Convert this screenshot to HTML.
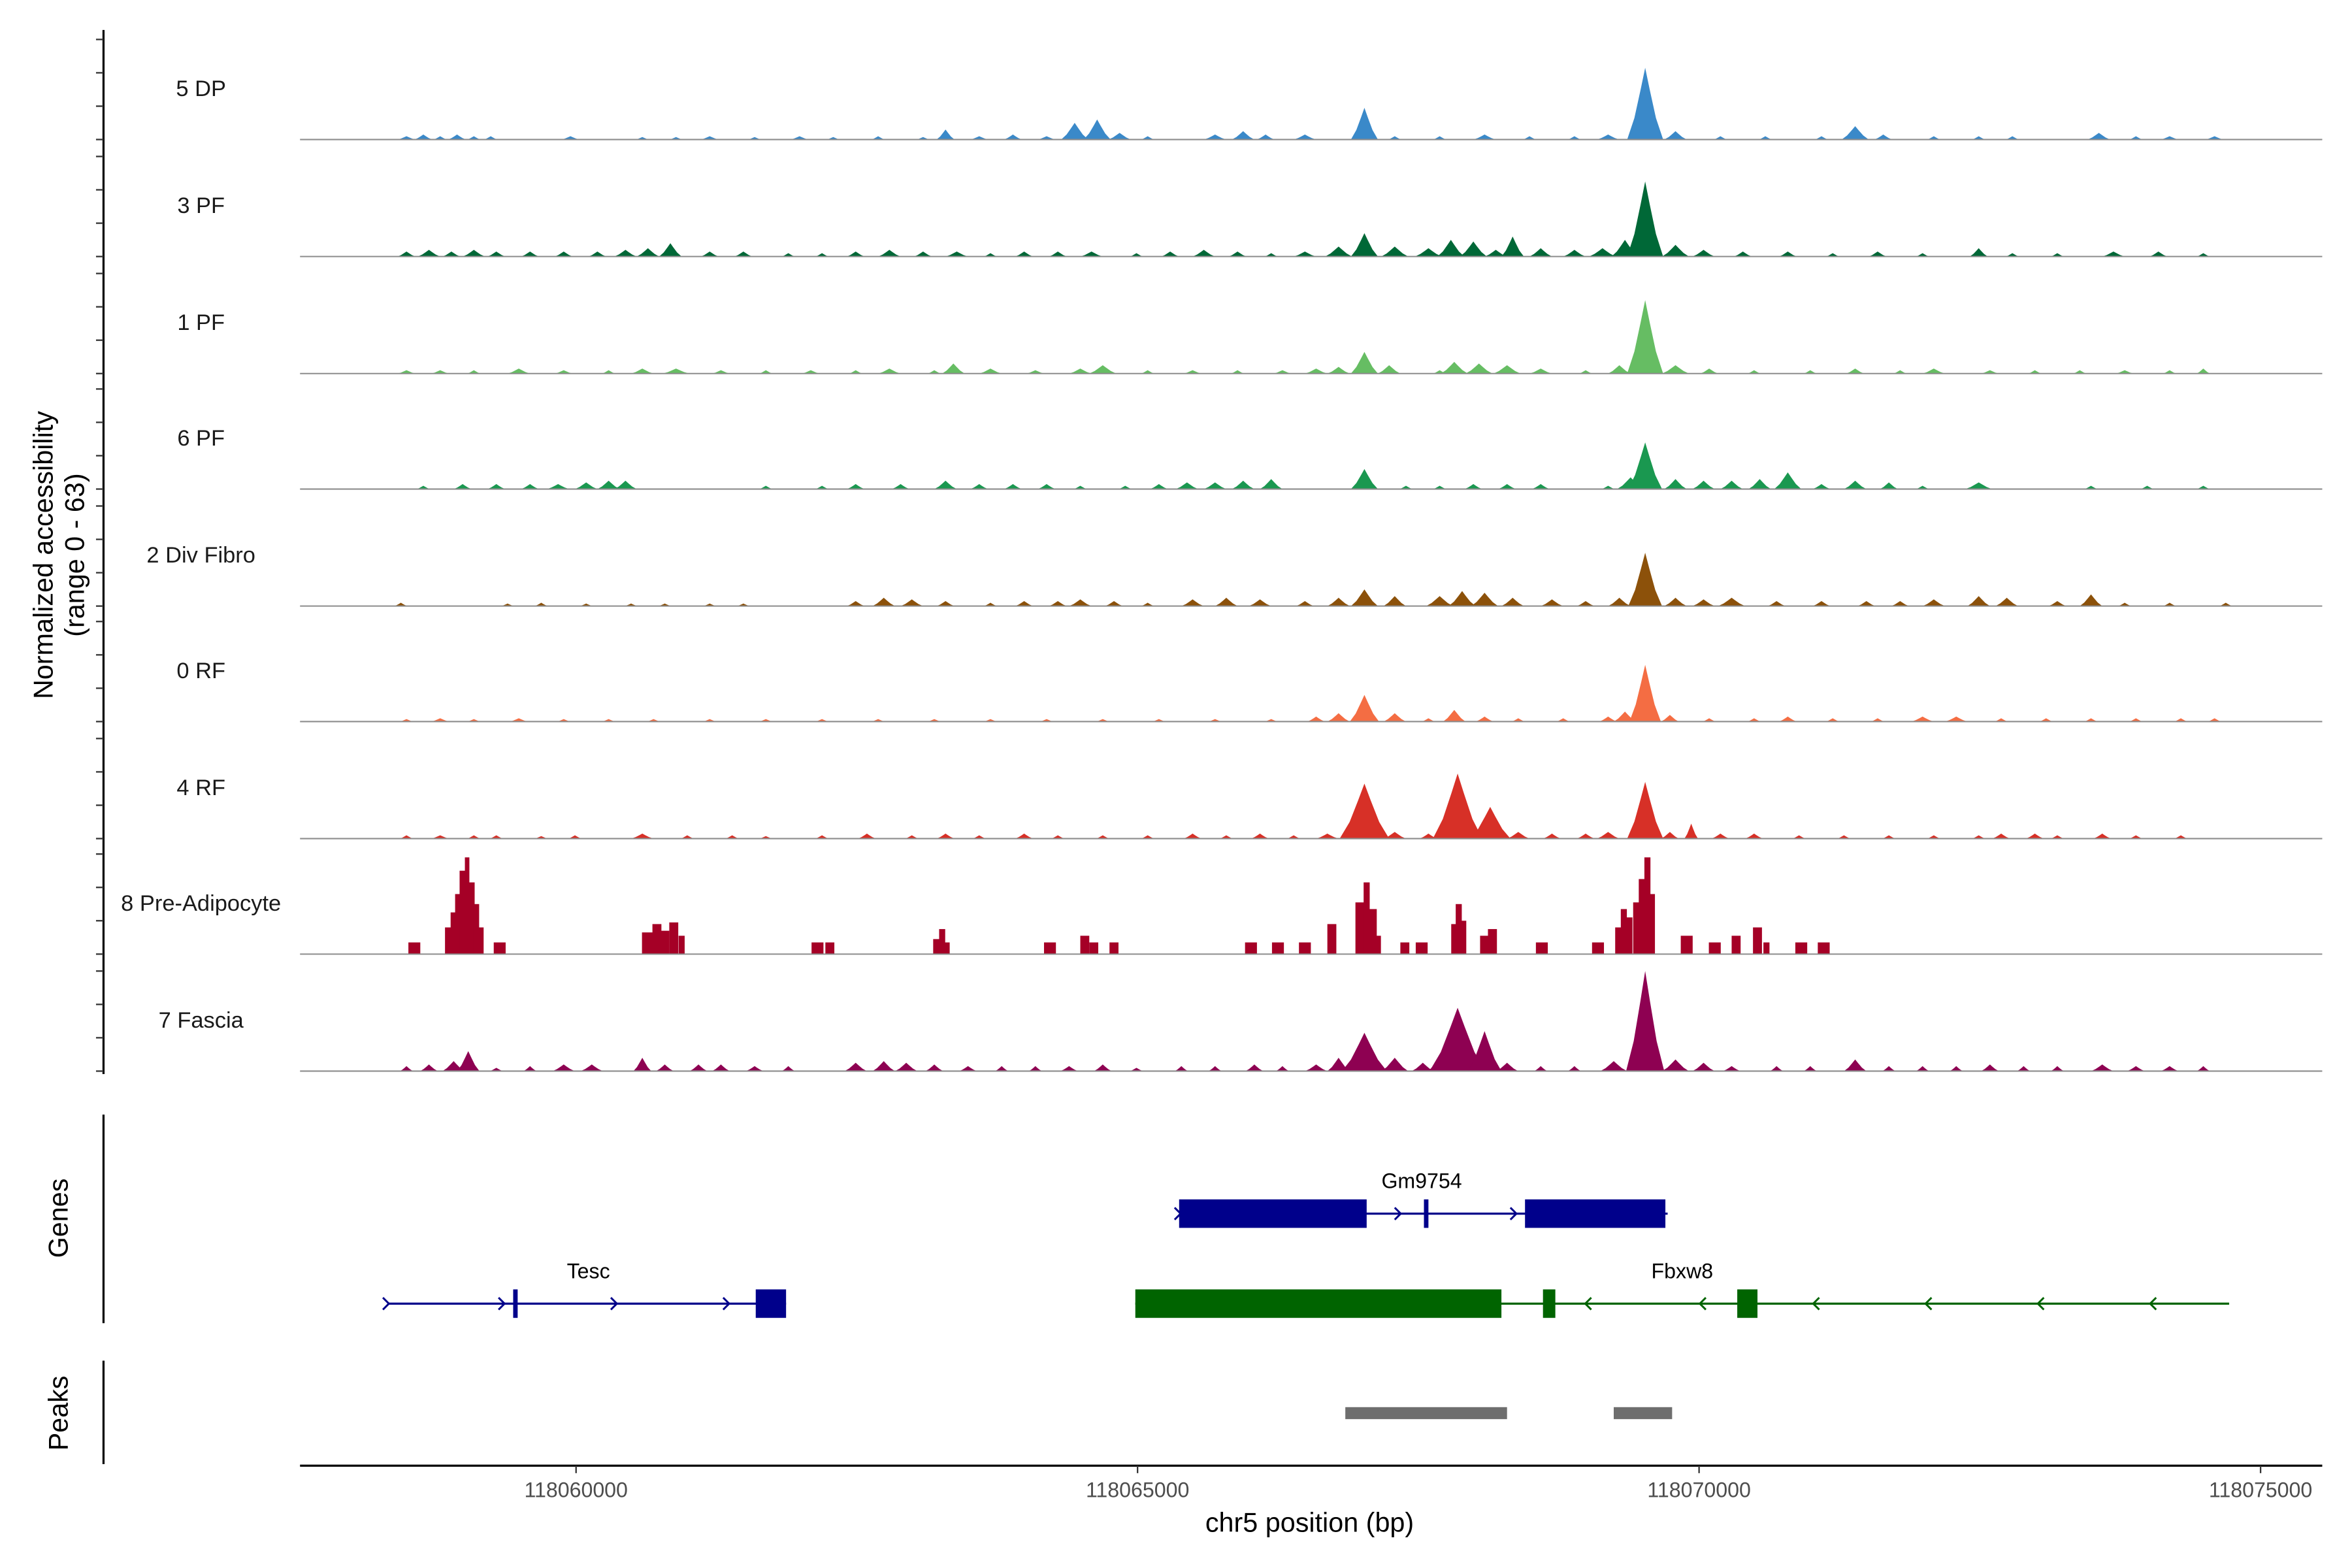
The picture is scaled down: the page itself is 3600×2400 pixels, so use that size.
<!DOCTYPE html>
<html><head><meta charset="utf-8">
<style>
html,body{margin:0;padding:0;background:#fff;}
svg{display:block;}
text{font-family:"Liberation Sans",Arial,sans-serif;}
</style></head>
<body>
<svg id="chart" width="3600" height="2400" viewBox="0 0 1560 1040" xmlns="http://www.w3.org/2000/svg">
<rect width="1560" height="1040" fill="#fff"/>
<g id="root" transform="scale(0.995)">
<g id="tracks"></g>
<g id="genes"></g>
<g id="peaks"></g>
<g id="axes"></g>
<text transform="translate(35,370) rotate(-90)" text-anchor="middle" font-size="18" fill="#000">Normalized accessibility</text>
<text transform="translate(56,370) rotate(-90)" text-anchor="middle" font-size="18" fill="#000">(range 0 - 63)</text>
<text transform="translate(45,812) rotate(-90)" text-anchor="middle" font-size="18" fill="#000">Genes</text>
<text transform="translate(45,942) rotate(-90)" text-anchor="middle" font-size="18" fill="#000">Peaks</text>
<text x="873" y="1021" text-anchor="middle" font-size="18" fill="#000">chr5 position (bp)</text>
</g>
</svg>
<script>
// ---- data (positions in kb minus 118000, values in normalized accessibility units) ----
const trackNames = ["5 DP","3 PF","1 PF","6 PF","2 Div Fibro","0 RF","4 RF","8 Pre-Adipocyte","7 Fascia"];
const trackColors = ["#3a89c9","#006837","#66bd63","#1a9850","#8c510a","#f46d43","#d73027","#a50026","#8e0152"];
const xTickValues = [118060000,118065000,118070000,118075000];
const xTickLabels = ["118060000","118065000","118070000","118075000"];
const yTickValues = [0,20,40,60];
const dp5 = [[58.49,2,.08],[58.64,3,.08],[58.79,2,.06],[58.94,3,.08],[59.09,2,.06],[59.24,2,.06],[59.95,2,.08],[60.59,1.5,.06],[60.89,1.5,.06],[61.19,2,.08],[61.59,1.5,.06],[61.99,2,.08],[62.29,1.5,.06],[62.69,2,.06],[63.09,1.5,.06],[63.29,6,.08],[63.59,2,.08],[63.89,3,.08],[64.19,2,.08],[64.44,10,.12],[64.64,12,.12],[64.84,4,.1],[65.09,2,.06],[65.69,3,.1],[65.94,5,.1],[66.14,3,.08],[66.49,3,.1],[67.02,19,.12],[67.29,2,.06],[67.69,2,.06],[68.09,3,.1],[68.49,2,.06],[68.89,2,.06],[69.19,3,.1],[69.52,43,.16],[69.79,5,.1],[70.19,2,.06],[70.59,2,.06],[71.09,2,.06],[71.39,8,.12],[71.64,3,.08],[72.09,2,.06],[72.49,2,.06],[72.79,2,.06],[73.56,4,.1],[73.89,2,.06],[74.19,2,.08],[74.59,2,.08]];
const pf3 = [[58.49,3,.08],[58.69,4,.1],[58.89,3,.08],[59.09,4,.1],[59.29,3,.08],[59.59,3,.08],[59.89,3,.08],[60.19,3,.08],[60.44,4,.1],[60.64,5,.1],[60.84,8,.1],[61.19,3,.08],[61.49,3,.08],[61.89,2,.06],[62.19,2,.06],[62.49,3,.08],[62.79,4,.1],[63.09,3,.08],[63.39,3,.1],[63.69,2,.06],[63.99,3,.08],[64.29,3,.08],[64.59,3,.1],[64.99,2,.06],[65.29,3,.08],[65.59,4,.1],[65.89,3,.08],[66.19,2,.06],[66.49,3,.1],[66.79,6,.12],[67.02,14,.12],[67.29,6,.12],[67.59,5,.12],[67.79,10,.12],[67.99,9,.12],[68.19,4,.1],[68.34,12,.1],[68.59,5,.1],[68.89,4,.1],[69.14,5,.12],[69.34,10,.12],[69.52,45,.16],[69.79,7,.12],[70.04,4,.1],[70.39,3,.08],[70.79,3,.08],[71.19,2,.06],[71.59,3,.08],[71.99,2,.06],[72.49,5,.08],[72.79,2,.06],[73.19,2,.06],[73.69,3,.1],[74.09,3,.08],[74.49,2,.06]];
const pf1 = [[58.49,2,.08],[58.79,2,.08],[59.09,2,.06],[59.49,3,.1],[59.89,2,.08],[60.29,2,.06],[60.59,3,.1],[60.89,3,.12],[61.29,2,.08],[61.69,2,.06],[62.09,2,.08],[62.49,2,.06],[62.79,3,.1],[63.19,2,.06],[63.36,6,.1],[63.69,3,.1],[64.09,2,.08],[64.49,3,.1],[64.69,5,.12],[65.09,2,.06],[65.49,2,.08],[65.89,2,.06],[66.29,2,.08],[66.59,3,.1],[66.79,4,.1],[67.02,13,.12],[67.24,5,.1],[67.69,2,.06],[67.82,7,.12],[68.04,6,.12],[68.29,5,.12],[68.59,3,.1],[68.99,2,.06],[69.29,5,.1],[69.52,44,.16],[69.79,5,.12],[70.09,3,.08],[70.49,2,.06],[70.99,2,.06],[71.39,3,.08],[71.79,2,.06],[72.09,3,.1],[72.59,2,.08],[72.99,2,.06],[73.39,2,.06],[73.79,2,.08],[74.19,2,.06],[74.49,3,.06]];
const pf6 = [[58.64,2,.06],[58.99,3,.08],[59.29,3,.08],[59.59,3,.08],[59.84,3,.1],[60.09,4,.1],[60.29,5,.1],[60.44,5,.1],[61.69,2,.06],[62.19,2,.06],[62.49,3,.08],[62.89,3,.08],[63.29,5,.1],[63.59,3,.08],[63.89,3,.08],[64.19,3,.08],[64.49,2,.06],[64.89,2,.06],[65.19,3,.08],[65.44,4,.1],[65.69,4,.1],[65.94,5,.1],[66.19,6,.1],[67.02,12,.12],[67.39,2,.06],[67.69,2,.06],[67.99,3,.08],[68.29,3,.08],[68.59,3,.08],[69.19,2,.06],[69.39,7,.12],[69.52,28,.15],[69.79,6,.1],[70.04,5,.1],[70.29,5,.1],[70.54,6,.1],[70.79,10,.12],[71.09,3,.08],[71.39,5,.1],[71.69,4,.08],[71.99,2,.06],[72.49,4,.12],[73.49,2,.06],[73.99,2,.06],[74.49,2,.06]];
const divFibro2 = [[58.44,2,.06],[59.39,1.5,.06],[59.69,2,.06],[60.09,1.5,.06],[60.49,1.5,.06],[60.79,1.5,.06],[61.19,1.5,.06],[61.49,1.5,.06],[62.49,3,.08],[62.74,5,.1],[62.99,4,.1],[63.29,3,.08],[63.69,2,.06],[63.99,3,.08],[64.29,3,.08],[64.49,4,.1],[64.79,3,.08],[65.09,2,.06],[65.49,4,.1],[65.79,5,.1],[66.09,4,.1],[66.49,3,.08],[66.79,5,.1],[67.02,10,.12],[67.29,6,.1],[67.69,6,.12],[67.89,9,.12],[68.09,8,.12],[68.34,5,.1],[68.69,4,.1],[68.99,3,.08],[69.29,5,.1],[69.52,32,.15],[69.79,5,.1],[70.04,4,.1],[70.29,5,.12],[70.69,3,.08],[71.09,3,.08],[71.49,3,.08],[71.79,3,.08],[72.09,4,.1],[72.49,6,.1],[72.74,5,.1],[73.19,3,.08],[73.49,7,.1],[73.79,2,.06],[74.19,2,.06],[74.69,2,.06]];
const rf0 = [[58.49,1.5,.06],[58.79,2,.08],[59.09,1.5,.06],[59.49,2,.08],[59.89,1.5,.06],[60.29,1.5,.06],[60.69,1.5,.06],[61.19,1.5,.06],[61.69,1.5,.06],[62.19,1.5,.06],[62.69,1.5,.06],[63.19,1.5,.06],[63.69,1.5,.06],[64.19,1.5,.06],[64.69,1.5,.06],[65.19,1.5,.06],[65.69,1.5,.06],[66.19,1.5,.06],[66.59,3,.08],[66.79,5,.1],[67.02,16,.13],[67.29,5,.1],[67.59,2,.06],[67.82,7,.1],[68.09,3,.08],[68.39,2,.06],[68.79,2,.06],[69.19,3,.08],[69.34,6,.1],[69.52,34,.14],[69.74,4,.08],[70.09,2,.06],[70.49,2,.06],[70.79,3,.08],[71.19,2,.06],[71.59,2,.06],[71.99,3,.1],[72.29,3,.1],[72.69,2,.06],[73.09,2,.06],[73.49,2,.06],[73.89,2,.06],[74.29,2,.06],[74.59,2,.06]];
const rf4 = [[58.49,2,.06],[58.79,2,.08],[59.09,2,.06],[59.29,2,.06],[59.69,1.5,.06],[59.99,2,.06],[60.59,3,.1],[60.99,2,.06],[61.39,2,.06],[61.69,1.5,.06],[62.19,2,.06],[62.59,3,.08],[62.99,2,.06],[63.29,3,.08],[63.59,2,.06],[63.99,3,.08],[64.29,2,.06],[64.69,2,.06],[65.09,2,.06],[65.49,3,.08],[65.79,2,.06],[66.09,3,.08],[66.39,2,.06],[66.69,3,.1],[67.02,33,.22],[67.29,4,.1],[67.59,3,.08],[67.85,39,.22],[68.14,19,.18],[68.39,4,.1],[68.69,3,.08],[68.99,3,.08],[69.19,4,.1],[69.52,34,.16],[69.74,4,.08],[69.93,9,.06],[70.19,3,.08],[70.49,3,.08],[70.89,2,.06],[71.29,2,.06],[71.69,2,.06],[72.09,2,.06],[72.49,2,.06],[72.69,3,.08],[72.99,3,.08],[73.19,2,.06],[73.59,3,.08],[73.89,2,.06],[74.29,2,.06]];
const preAdipo8 = [[58.56,7,.053],[58.86,16,.027],[58.91,25,.027],[58.95,36,.027],[58.99,50,.027],[59.03,58,.02],[59.07,43,.027],[59.11,30,.027],[59.15,16,.027],[59.32,7,.053],[60.64,13,.053],[60.72,18,.04],[60.79,14,.04],[60.87,19,.04],[60.94,11,.027],[62.15,7,.053],[62.26,7,.04],[63.22,9,.04],[63.26,15,.027],[63.30,7,.027],[64.22,7,.053],[64.53,11,.04],[64.61,7,.04],[64.79,7,.04],[66.01,7,.053],[66.25,7,.053],[66.49,7,.053],[66.73,18,.04],[66.98,31,.04],[67.04,43,.027],[67.09,27,.04],[67.14,11,.027],[67.38,7,.04],[67.53,7,.053],[67.82,18,.027],[67.86,30,.027],[67.90,20,.027],[68.09,11,.04],[68.16,15,.04],[68.60,7,.053],[69.10,7,.053],[69.28,16,.027],[69.33,27,.027],[69.38,22,.027],[69.44,31,.027],[69.49,45,.027],[69.54,58,.027],[69.58,36,.027],[69.89,11,.053],[70.14,7,.053],[70.33,11,.04],[70.52,16,.04],[70.60,7,.027],[70.91,7,.053],[71.11,7,.053]];
const fascia7 = [[58.49,3,.06],[58.69,4,.08],[58.91,6,.1],[59.04,12,.1],[59.29,2,.06],[59.59,3,.06],[59.89,4,.1],[60.14,4,.1],[60.59,8,.08],[60.79,4,.08],[61.09,4,.08],[61.29,4,.08],[61.59,3,.08],[61.89,3,.06],[62.49,5,.1],[62.74,6,.1],[62.94,5,.1],[63.19,4,.08],[63.49,3,.08],[63.79,3,.06],[64.09,3,.06],[64.39,3,.08],[64.69,4,.08],[64.99,2,.06],[65.39,3,.06],[65.69,3,.06],[66.04,4,.08],[66.29,3,.06],[66.59,4,.1],[66.79,8,.1],[67.02,23,.2],[67.29,8,.12],[67.54,5,.1],[67.74,15,.15],[67.85,38,.25],[68.09,24,.15],[68.29,5,.1],[68.59,3,.06],[68.89,3,.06],[69.24,6,.12],[69.52,60,.17],[69.79,7,.12],[70.04,5,.1],[70.29,3,.08],[70.69,3,.06],[70.99,3,.06],[71.39,7,.1],[71.69,3,.06],[71.99,3,.06],[72.29,3,.06],[72.59,4,.08],[72.89,3,.06],[73.19,3,.06],[73.59,4,.1],[73.89,3,.08],[74.19,3,.08],[74.49,3,.06]];
const trackData = [dp5,pf3,pf1,pf6,divFibro2,rf0,rf4,preAdipo8,fascia7];
const geneNames = ["Gm9754","Tesc","Fbxw8"];
const geneSpans = [[65.37,69.72],[58.32,61.87],[64.98,74.72]];
const geneStrands = ["+","+","-"];
const geneExons = [[[65.37,67.04],[67.55,67.59],[68.45,69.70]],[[59.44,59.48],[61.60,61.87]],[[64.98,68.24],[68.61,68.72],[70.34,70.52]]];
const geneArrows = [[65.37,67.33,68.36],[58.32,59.35,60.35,61.35],[69.00,70.02,71.03,72.03,73.03,74.03]];
const geneLabelPos = [67.53,60.11,69.85];
const geneRows = [0,1,1];
const geneColors = ["#00008b","#00008b","#006400"];
const peakRegions = [[66.85,68.29],[69.24,69.76]];

// ---- scales ----
const NS="http://www.w3.org/2000/svg";
function xs(kb){ return 384 + (kb-60)*74.86; }
function xbp(bp){ return xs(bp/1000-118000); }
const baselines = [93,171,249,326,404,481,559,636,714];
function ys(i,v){ return baselines[i] - v*(66.7/60); }
function mk(tag,attrs,parent){ const e=document.createElementNS(NS,tag); for(const k in attrs) e.setAttribute(k,attrs[k]); parent.appendChild(e); return e; }

const tracks=document.getElementById('tracks');
trackData.forEach((arr,i)=>{
  const g=mk('g',{fill:trackColors[i]},tracks);
  
  
  const b=baselines[i];
  arr.forEach(p=>{
    const c=p[0],h=p[1],w=p[2];
    let el;
    if(i===7){
      el=mk('rect',{x:xs(c-w),y:ys(i,h),width:xs(c+w)-xs(c-w),height:b-ys(i,h)},g);
    } else {
      const pts=[[c-w,0],[c-0.6*w,0.3*h],[c-0.25*w,0.7*h],[c,h],[c+0.25*w,0.7*h],[c+0.6*w,0.3*h],[c+w,0]];
      el=mk('polygon',{points:pts.map(q=>xs(q[0]).toFixed(2)+','+ys(i,q[1]).toFixed(2)).join(' ')},g);
    }
    
    
  });
  const ln=mk('line',{x1:200,x2:1548,y1:b,y2:b,stroke:'#8c8c8c','stroke-width':0.9},tracks);
  
  
  const t=mk('text',{x:134,y:b-29,'text-anchor':'middle','font-size':15,fill:'#1a1a1a'},tracks);
  t.textContent=trackNames[i];
  
  
});

// ---- axes ----
const axes=document.getElementById('axes');
function axLine(x1,y1,x2,y2,w,name){ const l=mk('line',{x1,y1,x2,y2,stroke:'#000','stroke-width':w},axes);
  
   }
axLine(69,20,69,716,1.4,'y-axis-line');
axLine(69,743,69,882,1.4,'genes-axis-line');
axLine(69,907,69,976,1.4,'peaks-axis-line');
axLine(200,977,1548,977,1.4,'x-axis-line');
baselines.forEach((b,i)=>{
  yTickValues.forEach(v=>{
    const y=ys(i,v);
    const l=mk('line',{x1:64,x2:69,y1:y,y2:y,stroke:'#333','stroke-width':1},axes);
    
    
  });
});
xTickValues.forEach((v,k)=>{
  const x=xbp(v);
  const l=mk('line',{x1:x,x2:x,y1:977,y2:982,stroke:'#333','stroke-width':1},axes);
  
  
  const t=mk('text',{x:x,y:998,'text-anchor':'middle','font-size':14,fill:'#4d4d4d'},axes);
  t.textContent=xTickLabels[k];
  
  
});

// ---- genes ----
const genes=document.getElementById('genes');
geneNames.forEach((nm,i)=>{
  const g=mk('g',{},genes);
  
  
  const col=geneColors[i];
  const y=geneRows[i]===0?809:869;
  mk('line',{x1:xs(geneSpans[i][0]),x2:xs(geneSpans[i][1]),y1:y,y2:y,stroke:col,'stroke-width':1.4},g);
  geneExons[i].forEach(e=>{
    const r=mk('rect',{x:xs(e[0]),y:y-9.5,width:Math.max(2.5,xs(e[1])-xs(e[0])),height:19,fill:col},g);
    
    
  });
  geneArrows[i].forEach(a=>{
    const x=xs(a); const d=geneStrands[i]==='+'?1:-1;
    mk('polyline',{points:`${x-3*d},${y-4} ${x+1*d},${y} ${x-3*d},${y+4}`,fill:'none',stroke:col,'stroke-width':1.3},g);
  });
  const t=mk('text',{x:xs(geneLabelPos[i]),y:y-17,'text-anchor':'middle','font-size':14,fill:'#000'},g);
  t.textContent=nm;
  
  
});

// ---- peaks ----
const peaks=document.getElementById('peaks');
peakRegions.forEach(p=>{
  const r=mk('rect',{x:xs(p[0]),y:938,width:xs(p[1])-xs(p[0]),height:8,fill:'#6e6e6e'},peaks);
  
  
});
</script>
</body></html>
